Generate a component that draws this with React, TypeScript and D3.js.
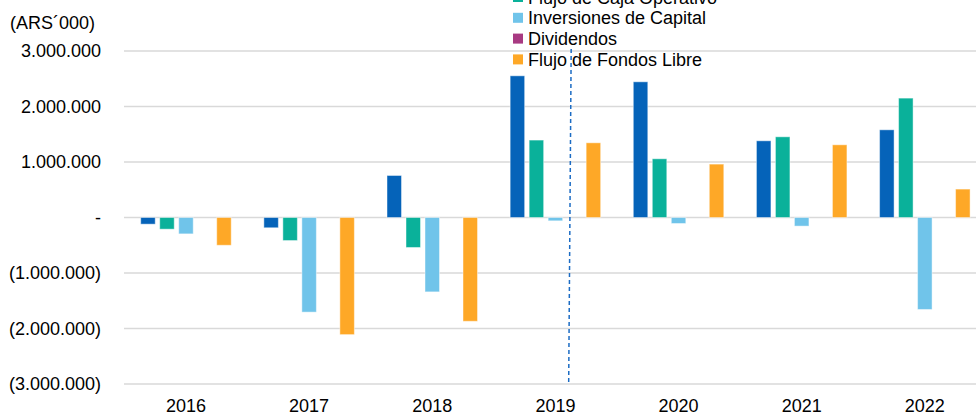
import React from "react";
import * as d3 from "d3";

const years = ["2016", "2017", "2018", "2019", "2020", "2021", "2022"];
const seriesNames = [
  "Flujo de Caja Operativo",
  "Inversiones de Capital",
  "Dividendos",
  "Flujo de Fondos Libre",
];
const seriesColors = ["#0563b9", "#0ab19a", "#70c4ea", "#a83a82", "#fea827"];
const legendColors = ["#0ab19a", "#70c4ea", "#a83a82", "#fea827"];
// Bar series order within each year group
const barSeries = ["Caja Operativa", "Flujo de Caja Operativo", "Inversiones de Capital", "Dividendos", "Flujo de Fondos Libre"];
const cajaOperativa = [-120000, -185000, 757000, 2553000, 2445000, 1382000, 1580000];
const flujoCajaOperativo = [-210000, -415000, -540000, 1395000, 1058000, 1454000, 2151000];
const inversionesCapital = [-295000, -1705000, -1340000, -60000, -108000, -155000, -1657000];
const dividendos = [0, 0, 0, 0, 0, 0, 0];
const flujoFondosLibre = [-500000, -2110000, -1870000, 1346000, 962000, 1310000, 512000];
const yTicks = [3000000, 2000000, 1000000, 0, -1000000, -2000000, -3000000];
const yTickLabels = ["3.000.000", "2.000.000", "1.000.000", "-", "(1.000.000)", "(2.000.000)", "(3.000.000)"];
const unitLabel = "(ARS´000)";

const allSeries = [cajaOperativa, flujoCajaOperativo, inversionesCapital, dividendos, flujoFondosLibre];

export default function App() {
  const W = 976;
  const H = 417;
  const x0 = d3.scaleBand<string>().domain(years).range([124.4, 986.4]).padding(0);
  const x1 = d3
    .scaleBand<string>()
    .domain(barSeries)
    .range([-45.25, 45.25])
    .paddingInner(0.2368)
    .paddingOuter(0);
  const y = d3.scaleLinear().domain([-3000000, 3000000]).range([384, 51]);
  const font = "Liberation Sans, Arial, sans-serif";
  const dashX = (x0("2019") as number) + x0.bandwidth() * 0.62;

  return (
    <svg
      width={W}
      height={H}
      style={{ position: "absolute", left: 0, top: 0, background: "#fff" }}
      fontFamily={font}
    >
      <rect x={0} y={0} width={W} height={H} fill="#fff" />
      {yTicks.map((t, i) => (
        <g key={t}>
          <line x1={124} x2={W} y1={y(t)} y2={y(t)} stroke="#d9d9d9" strokeWidth={1.5} />
          <text x={101} y={y(t) + 6} textAnchor="end" fontSize={18} fill="#000">
            {yTickLabels[i]}
          </text>
        </g>
      ))}
      <text x={10} y={29} fontSize={18} fill="#000">
        {unitLabel}
      </text>
      {years.map((yr, i) => {
        const cx = (x0(yr) as number) + x0.bandwidth() / 2;
        return (
          <g key={yr}>
            {allSeries.map((s, j) => {
              const v = s[i];
              if (v === 0) return null;
              const bx = cx + (x1(barSeries[j]) as number);
              const top = y(Math.max(0, v));
              const h = Math.abs(y(v) - y(0));
              return (
                <rect
                  key={j}
                  x={bx}
                  y={top}
                  width={x1.bandwidth()}
                  height={h}
                  fill={seriesColors[j]}
                  stroke="#ffffff"
                  strokeOpacity={0.45}
                  strokeWidth={1}
                />
              );
            })}
            <text x={cx} y={412} textAnchor="middle" fontSize={18} fill="#000">
              {yr}
            </text>
          </g>
        );
      })}
      <line
        x1={dashX + 1}
        y1={49}
        x2={dashX - 1.5}
        y2={384}
        stroke="#1c6cc4"
        strokeWidth={1.5}
        strokeDasharray="4,3"
      />
      {seriesNames.map((n, i) => {
        const cy = -3 + i * 20.8;
        return (
          <g key={n}>
            <rect x={513} y={cy - 5} width={10} height={10} fill={legendColors[i]} />
            <text x={528} y={cy + 6.5} fontSize={18} fill="#000">
              {n}
            </text>
          </g>
        );
      })}
    </svg>
  );
}
